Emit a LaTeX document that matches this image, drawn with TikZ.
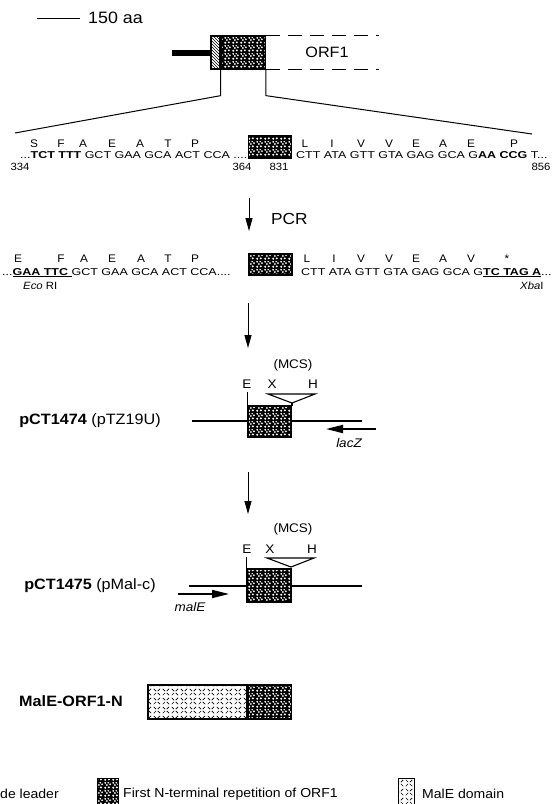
\documentclass[tikz,border=0pt]{standalone}
\usepackage{fontspec}
\setmainfont{Liberation Sans}[FakeStretch=1.08]
\newfontfamily\seqfont{Liberation Sans}[FakeStretch=1.25]
\usepackage{tikz}
\usetikzlibrary{arrows.meta,patterns}
\pgfdeclarepatternformonly{stipple}{\pgfqpoint{0pt}{0pt}}{\pgfqpoint{8pt}{8pt}}{\pgfqpoint{8pt}{8pt}}{%
  \pgfpathcircle{\pgfqpoint{1.4pt}{1.4pt}}{1.2pt}
  \pgfpathcircle{\pgfqpoint{5.3pt}{1.8pt}}{1.2pt}
  \pgfpathcircle{\pgfqpoint{3.2pt}{4.4pt}}{1.1pt}
  \pgfpathcircle{\pgfqpoint{6.6pt}{5.2pt}}{1.1pt}
  \pgfpathcircle{\pgfqpoint{1.3pt}{6.7pt}}{1.1pt}
  \pgfpathcircle{\pgfqpoint{4.6pt}{6.9pt}}{0.9pt}
  \pgfusepath{fill}}
\pgfdeclarepatternformonly{maledash}{\pgfqpoint{0pt}{0pt}}{\pgfqpoint{9pt}{9pt}}{\pgfqpoint{9pt}{9pt}}{%
  \pgfsetlinewidth{0.7pt}
  \pgfpathmoveto{\pgfqpoint{0.8pt}{0.8pt}}\pgfpathlineto{\pgfqpoint{3.4pt}{3.4pt}}
  \pgfpathmoveto{\pgfqpoint{5.2pt}{3.4pt}}\pgfpathlineto{\pgfqpoint{7.8pt}{0.8pt}}
  \pgfpathmoveto{\pgfqpoint{0.8pt}{7.8pt}}\pgfpathlineto{\pgfqpoint{3.4pt}{5.2pt}}
  \pgfpathmoveto{\pgfqpoint{5.2pt}{5.2pt}}\pgfpathlineto{\pgfqpoint{7.8pt}{7.8pt}}
  \pgfusepath{stroke}}
\tikzset{
  stipplebox/.style={draw, line width=1.3pt, preaction={fill=black}, pattern=stipple, pattern color=white, inner sep=0pt, minimum width=43pt},
  malebox/.style={draw, line width=1.3pt, pattern=maledash, inner sep=0pt},
  leaderbox/.style={draw, line width=1.3pt, pattern=north west lines, inner sep=0pt},
  aaLbl/.style={font=\fontsize{11}{12}\selectfont, anchor=base, inner sep=0pt},
  seqTxt/.style={font=\seqfont\fontsize{10}{12}\selectfont, anchor=base west, inner sep=0pt},
  numLbl/.style={font=\fontsize{10.5}{11}\selectfont, inner sep=0pt},
  siteLbl/.style={font=\fontsize{12.5}{13}\selectfont, anchor=base, inner sep=0pt},
  plasLbl/.style={font=\fontsize{15}{17}\selectfont, inner sep=0pt},
  legLbl/.style={font=\fontsize{13}{14}\selectfont, anchor=west, inner sep=0pt},
  stepArrow/.style={line width=1pt, -{Triangle[length=13pt,width=7pt]}},
  geneArrow/.style={line width=1.8pt, -{Triangle[length=17pt,width=8pt]}},
  backbone/.style={line width=1.1pt},
  mcsTri/.style={draw, line width=1.1pt, fill=white, line join=miter},
}

\begin{document}
\begin{tikzpicture}[x=1pt,y=-1pt]
  \useasboundingbox (0,0) rectangle (557,804);

  % scale bar
  \draw[line width=1pt] (37,18) -- (80,18);
  \node[plasLbl, font=\fontsize{16.5}{18}\selectfont, anchor=west] (scale) at (88,18) {150 aa};

  % ORF1 overview
  \node[leaderbox, minimum width=9pt, minimum height=33pt] (lead) at (215.5,52.5) {};
  \node[stipplebox, minimum width=44pt, minimum height=33pt, anchor=west] (rep) at (lead.east) {};
  \draw[line width=6pt] (lead.west) -- ++(-38,0);
  \draw[line width=1.3pt, dash pattern=on 14pt off 8pt] (rep.north east) -- ++(113,0) (rep.south east) -- ++(113,0);
  \node[plasLbl] (orf) at (327,52) {ORF1};
  \coordinate (zoomL) at (15,133);
  \coordinate (zoomR) at (532,134);
  \draw[line width=1pt] (rep.south west) -- ++(0,26) -- (zoomL);
  \draw[line width=1pt] (rep.south east) -- ++(0,26) -- (zoomR);

  % native sequence
  \node[stipplebox, minimum height=22pt] (box1) at (270,147) {};
  \foreach \x/\a [count=\i] in {34/S,61/F,83/A,112/E,140/A,168/T,195/P,305/L,332/I,361/V,389/V,416/E,443/A,471/E,514/P}
    \node[aaLbl] (aaA\i) at (\x,147.5) {\a};
  \node[seqTxt] (seq1L) at (20,158) {...\textbf{TCT TTT} GCT GAA GCA ACT CCA ....};
  \node[seqTxt] (seq1R) at (296,158) {CTT ATA GTT GTA GAG GCA G\textbf{AA CCG} T...};
  \node[numLbl] (n334) at (20,167) {334};
  \node[numLbl] (n364) at (242,167) {364};
  \node[numLbl] (n831) at (279,167) {831};
  \node[numLbl] (n856) at (541,167) {856};

  \coordinate (pcrTop) at (249,198);
  \coordinate (pcrEnd) at (249,231);
  \draw[stepArrow] (pcrTop) -- (pcrEnd);
  \node[plasLbl, font=\fontsize{16}{17}\selectfont, anchor=west] (pcr) at (271,219) {PCR};

  % PCR product
  \node[stipplebox, minimum height=21pt] (box2) at (270.5,264.5) {};
  \foreach \x/\a [count=\i] in {18/E,61/F,84/A,112/E,141/A,168/T,195/P,307/L,334/I,361/V,389/V,416/E,443/A,471/V,507/*}
    \node[aaLbl] (aaB\i) at (\x,262) {\a};
  \node[seqTxt] (seq2L) at (2,275) {...\underline{\textbf{GAA TTC}\ }GCT GAA GCA ACT CCA....};
  \node[seqTxt] (seq2R) at (301,275) {CTT ATA GTT GTA GAG GCA G\underline{\textbf{TC TAG A}}...};
  \node[numLbl, anchor=west] (eco) at (23,286) {\textit{Eco} RI};
  \node[numLbl, anchor=west] (xba) at (520,286) {\textit{Xba}I};

  \coordinate (cloneTop) at (248,303);
  \coordinate (cloneEnd) at (248,348);
  \draw[stepArrow] (cloneTop) -- (cloneEnd);

  % pCT1474
  \node[plasLbl] (p1474) at (90,421) {\textbf{pCT1474} (pTZ19U)};
  \coordinate (bb1L) at (192,421);
  \coordinate (bb1R) at (362,421);
  \draw[backbone] (bb1L) -- (bb1R);
  \node[stipplebox, minimum height=31pt] (box3) at (269.5,421.5) {};
  \draw[backbone] (box3.north west) -- ++(0,-13);
  \draw[mcsTri] (268,394) -- (315,394) -- (292,403) -- cycle;
  \draw[backbone] (292,403) -- (292,406);
  \node[siteLbl] (mcs1) at (293,368) {(MCS)};
  \node[siteLbl] (e1) at (247,388) {E};
  \node[siteLbl] (x1) at (272,388) {X};
  \node[siteLbl] (h1) at (313,388) {H};
  \coordinate (lacS) at (376,429);
  \coordinate (lacE) at (326,429);
  \draw[geneArrow] (lacS) -- (lacE);
  \node[siteLbl, font=\fontsize{12.5}{13}\selectfont\itshape] (lacZ) at (349,447) {lacZ};

  \coordinate (subTop) at (248,472);
  \coordinate (subEnd) at (248,514);
  \draw[stepArrow] (subTop) -- (subEnd);

  % pCT1475
  \node[plasLbl] (p1475) at (90,586) {\textbf{pCT1475} (pMal-c)};
  \coordinate (bb2L) at (189,586);
  \coordinate (bb2R) at (362,586);
  \draw[backbone] (bb2L) -- (bb2R);
  \node[stipplebox, minimum width=44pt, minimum height=33pt] (box4) at (269,585.5) {};
  \draw[backbone] (box4.north west) -- ++(0,-11);
  \draw[mcsTri] (267,558) -- (314,558) -- (291,567) -- cycle;
  \node[siteLbl] (mcs2) at (293,532) {(MCS)};
  \node[siteLbl] (e2) at (247,553) {E};
  \node[siteLbl] (x2) at (270,553) {X};
  \node[siteLbl] (h2) at (312,553) {H};
  \coordinate (malS) at (178,594);
  \coordinate (malE) at (229,594);
  \draw[geneArrow, line width=1.5pt] (malS) -- (malE);
  \node[siteLbl, font=\fontsize{12.5}{13}\selectfont\itshape] (malElbl) at (190,611) {malE};

  % fusion protein
  \node[plasLbl] (fusion) at (71,701) {\textbf{MalE-ORF1-N}};
  \node[malebox, minimum width=99pt, minimum height=34pt] (maleDom) at (197.5,702) {};
  \node[stipplebox, minimum height=34pt, anchor=west] (repDom) at (maleDom.east) {};

  % legend
  \node[legLbl] (legLead) at (0,794) {de leader};
  \node[stipplebox, minimum width=21pt, minimum height=28pt, anchor=north west] (legRep) at (97,778) {};
  \node[legLbl] (legRepT) at (123,794) {First N-terminal repetition of ORF1};
  \node[malebox, minimum width=16pt, minimum height=28pt, anchor=north west] (legMal) at (398,778) {};
  \node[legLbl] (legMalT) at (422,794) {MalE domain};
\end{tikzpicture}
\end{document}
